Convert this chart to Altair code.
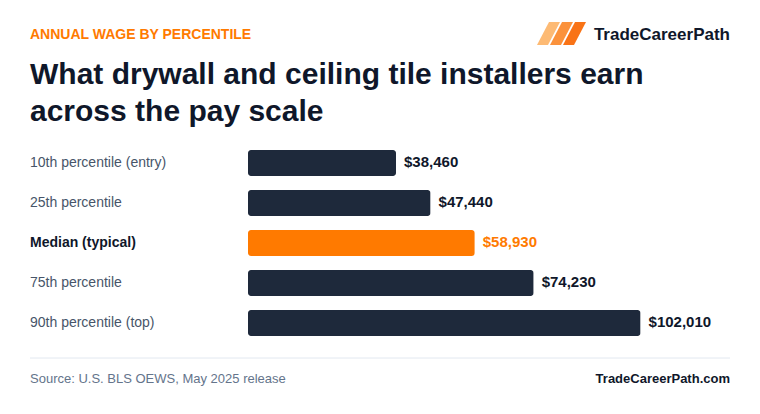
import altair as alt
import pandas as pd

categories = ["10th percentile (entry)", "25th percentile", "Median (typical)", "75th percentile", "90th percentile (top)"]
wages = [38460, 47440, 58930, 74230, 102010]
wage_labels = ["$38,460", "$47,440", "$58,930", "$74,230", "$102,010"]
highlight = [False, False, True, False, False]

df = pd.DataFrame({"cat": categories, "wage": wages, "label": wage_labels, "hl": highlight})

FONT = "Liberation Sans"
ORANGE = "#ff7a00"
DARK = "#1e293b"
INK = "#0f172a"

# plot origin at (248, 142) in page pixels
X0, Y0 = 248, 142
W, H = 440, 200

y = alt.Y("cat:N", sort=categories, axis=None,
          scale=alt.Scale(paddingInner=0, paddingOuter=0))
x = alt.X("wage:Q", axis=None, scale=alt.Scale(domain=[0, 114340], nice=False, zero=True))

base = alt.Chart(df)

bars = base.mark_bar(height=26, cornerRadius=3, yOffset=1).encode(
    x=x, y=y,
    color=alt.condition("datum.hl", alt.value(ORANGE), alt.value(DARK)),
)

vals = base.mark_text(align="left", baseline="middle", dx=8, font=FONT, fontSize=15, fontWeight="bold").encode(
    x=x, y=y,
    text="label:N",
    color=alt.condition("datum.hl", alt.value(ORANGE), alt.value(INK)),
)

cats_normal = base.transform_filter("!datum.hl").mark_text(
    align="left", baseline="middle", font=FONT, fontSize=14, color="#475569", dy=1
).encode(x=alt.value(30 - X0), y=y, text="cat:N")

cats_bold = base.transform_filter("datum.hl").mark_text(
    align="left", baseline="middle", font=FONT, fontSize=14, fontWeight="bold", color=INK, dy=1
).encode(x=alt.value(30 - X0), y=y, text="cat:N")

def deco(text, px, py, size, color, weight="normal", align="left", baseline="alphabetic"):
    return alt.Chart(pd.DataFrame({"t": [text]})).mark_text(
        align=align, baseline=baseline, font=FONT, fontSize=size, fontWeight=weight, color=color
    ).encode(x=alt.value(px - X0), y=alt.value(py - Y0), text="t:N")

kicker = deco("ANNUAL WAGE BY PERCENTILE", 30, 39, 14, ORANGE, "bold")
title1 = deco("What drywall and ceiling tile installers earn", 30, 84, 30, INK, "bold")
title2 = deco("across the pay scale", 30, 121, 30, INK, "bold")
brand = deco("TradeCareerPath", 730, 40, 17, INK, "bold", align="right")
source = deco("Source: U.S. BLS OEWS, May 2025 release", 30, 383, 13, "#64748b")
site = deco("TradeCareerPath.com", 730, 383, 13, INK, "bold", align="right")

rule = alt.Chart(pd.DataFrame({"a": [0]})).mark_rule(color="#e2e8f0", strokeWidth=1).encode(
    x=alt.value(30 - X0), x2=alt.value(730 - X0), y=alt.value(358 - Y0)
)

# logo: three slanted stripes
stripe_path = "M-1,1 L-0.043,1 L1,-1 L0.043,-1 Z"
logo_df = pd.DataFrame({"i": [0, 1, 2], "c": ["#fdba74", "#fb923c", "#f97316"]})
logo = alt.Chart(logo_df).mark_point(shape=stripe_path, filled=True, size=529, opacity=1, strokeWidth=0).encode(
    x=alt.X("i:Q", scale=alt.Scale(domain=[0, 1], range=[548.5 - X0, 561.5 - X0]), axis=None),
    y=alt.value(33.5 - Y0),
    color=alt.Color("c:N", scale=None),
)

chart = alt.layer(bars, vals, cats_normal, cats_bold, kicker, title1, title2, brand, source, site, rule, logo).resolve_scale(
    x="independent"
).properties(
    width=W, height=H,
    padding={"left": X0, "top": Y0, "right": 760 - X0 - W, "bottom": 414 - Y0 - H},
    autosize=alt.AutoSizeParams(type="none"),
    background="white",
).configure_view(stroke=None)

chart.save("out.html", embed_options={"renderer": "svg", "actions": False})
